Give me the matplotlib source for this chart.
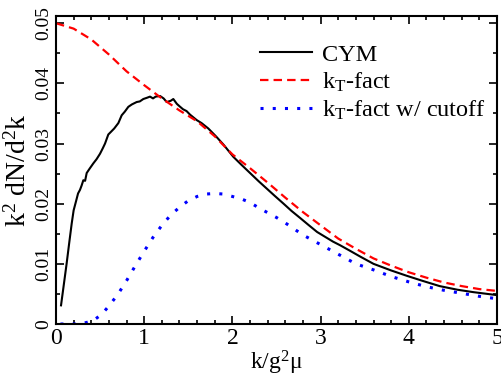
import matplotlib
matplotlib.use("Agg")
import matplotlib.pyplot as plt
from matplotlib.ticker import MultipleLocator

plt.rcParams['font.family'] = ['Liberation Serif', 'DejaVu Serif']
plt.rcParams['mathtext.fontset'] = 'custom'
plt.rcParams['mathtext.rm'] = 'Liberation Serif'
plt.rcParams['mathtext.it'] = 'Liberation Serif:italic'

# CYM (black solid)
cym_k = [0.057, 0.09, 0.121, 0.15, 0.178, 0.2, 0.227, 0.25, 0.272, 0.29, 0.31, 0.33,
         0.348, 0.38, 0.423, 0.46, 0.499, 0.53, 0.556, 0.593, 0.62, 0.66, 0.707, 0.745,
         0.78, 0.82, 0.86, 0.915, 0.95, 0.99, 1.03, 1.066, 1.10, 1.13, 1.18, 1.22, 1.255,
         1.30, 1.33, 1.37, 1.40, 1.44, 1.48, 1.52, 1.595, 1.65, 1.727, 1.82, 1.9, 2.01,
         2.1, 2.2, 2.3, 2.39, 2.48, 2.58, 2.67, 2.77, 2.86, 2.96, 3.05, 3.14, 3.22, 3.33,
         3.45, 3.6, 3.8, 3.98, 4.15, 4.35, 4.55, 4.73, 5.0]
cym_y = [0.0031, 0.0067, 0.0101, 0.0135, 0.0167, 0.0189, 0.0204, 0.0217, 0.0223, 0.0230,
         0.0239, 0.0238, 0.0251, 0.0258, 0.0267, 0.0274, 0.0283, 0.0292, 0.0300, 0.0315,
         0.0319, 0.0325, 0.0334, 0.0347, 0.0353, 0.0361, 0.0365, 0.0369, 0.0370, 0.0374,
         0.0376, 0.0378, 0.0375, 0.0378, 0.0379, 0.0375, 0.0369, 0.0371, 0.0374, 0.0366,
         0.0362, 0.0357, 0.0354, 0.0348, 0.0339, 0.0334, 0.0325, 0.0311, 0.0298, 0.0278,
         0.0265, 0.0251, 0.0237, 0.0225, 0.0213, 0.0200, 0.0188, 0.0176, 0.0165, 0.0153,
         0.0145, 0.0137, 0.0131, 0.0122, 0.0112, 0.0100, 0.0089, 0.0080, 0.0072, 0.0063,
         0.0057, 0.0053, 0.0048]

# kT-fact (red dashed)
kt_k = [0.0, 0.2, 0.4, 0.6, 0.8, 1.0, 1.2, 1.4, 1.6, 1.8, 2.0, 2.2, 2.4, 2.6, 2.8, 3.0,
        3.2, 3.4, 3.6, 3.8, 4.0, 4.2, 4.4, 4.6, 4.8, 5.0]
kt_y = [0.0500, 0.0491, 0.0473, 0.0448, 0.0420, 0.0397, 0.0375, 0.0355, 0.0337, 0.0312,
        0.0282, 0.0259, 0.0235, 0.0210, 0.0186, 0.0164, 0.0142, 0.0125, 0.0109, 0.0097,
        0.0086, 0.0077, 0.0069, 0.0063, 0.0058, 0.0055]

# kT-fact w/ cutoff (blue dotted)
cut_k = [0.05, 0.1, 0.2, 0.3, 0.416, 0.518, 0.6, 0.7, 0.8, 0.9, 1.0, 1.1, 1.2, 1.3, 1.4,
         1.5, 1.6, 1.7, 1.8, 1.9, 2.0, 2.1, 2.2, 2.3, 2.4, 2.5, 2.6, 2.7, 2.8, 2.9, 3.0,
         3.2, 3.4, 3.6, 3.8, 4.0, 4.2, 4.4, 4.6, 4.8, 5.0]
cut_y = [0.0, 0.0, 0.0, 0.0001, 0.0005, 0.0016, 0.0030, 0.0049, 0.0072, 0.0097, 0.0121,
         0.0144, 0.0164, 0.0181, 0.0194, 0.0205, 0.0212, 0.0216, 0.0217, 0.0216, 0.0212,
         0.0208, 0.0202, 0.0193, 0.0185, 0.0177, 0.0168, 0.0158, 0.0148, 0.0140, 0.0132,
         0.0116, 0.0100, 0.0090, 0.0079, 0.0070, 0.0062, 0.0056, 0.0051, 0.0046, 0.0042]

labels = ['CYM', 'k$_\\mathrm{T}$-fact', 'k$_\\mathrm{T}$-fact w/ cutoff']
x_ticks = [0, 1, 2, 3, 4, 5]
y_ticks = [0, 0.01, 0.02, 0.03, 0.04, 0.05]
y_tick_labels = ['0', '0.01', '0.02', '0.03', '0.04', '0.05']

fig = plt.figure(figsize=(5.02, 3.83), dpi=100)
ax = fig.add_axes([56/502, 1 - 324/383, 441/502, 308/383])

ax.plot(cym_k, cym_y, color='black', lw=1.5, label=labels[0])
ax.plot(kt_k, kt_y, color='red', lw=1.6, linestyle=(0, (3.8, 2.3)), label=labels[1])
ax.plot(cut_k, cut_y, color='blue', lw=2.2, linestyle=(0, (1.0, 3.0)), label=labels[2])

ax.set_xlim(0, 5)
ax.set_ylim(0, 0.0512)
ax.set_xticks(x_ticks)
ax.set_xticklabels([str(t) for t in x_ticks], fontsize=17)
ax.set_yticks(y_ticks)
ax.set_yticklabels(y_tick_labels, fontsize=14, rotation=90, va='center')
ax.xaxis.set_minor_locator(MultipleLocator(0.2))
ax.yaxis.set_minor_locator(MultipleLocator(0.005))
ax.tick_params(which='both', direction='in', top=True, right=True, width=1.2)
ax.tick_params(which='major', length=6)
ax.tick_params(which='minor', length=3)
ax.tick_params(axis='x', pad=3)
ax.tick_params(axis='y', pad=3)
for s in ax.spines.values():
    s.set_linewidth(1.5)

ax.set_xlabel('k/g$^2$\u03bc', fontsize=17, labelpad=0)
ax.set_ylabel('k$^2$ dN/d$^2$k', fontsize=20, labelpad=2)

ax.legend(loc='upper left', bbox_to_anchor=(0.4626, 0.91), frameon=False, fontsize=17.5,
          handlelength=2.14, handletextpad=0.41, labelspacing=0.2, borderpad=0,
          borderaxespad=0)

fig.savefig('out.png', dpi=100)
